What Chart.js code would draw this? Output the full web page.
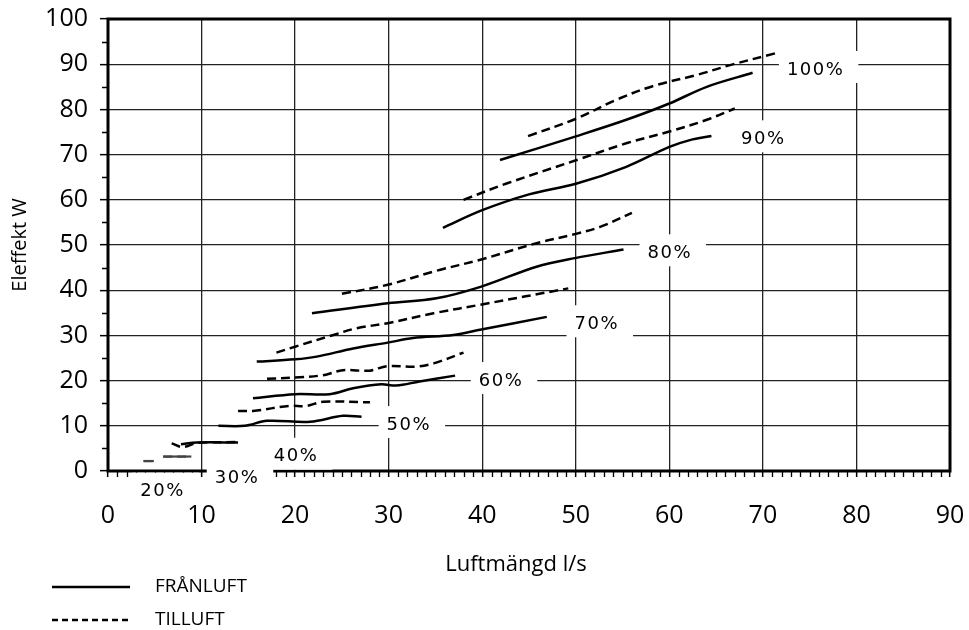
<!DOCTYPE html>
<html><head><meta charset="utf-8">
<script src="https://cdn.jsdelivr.net/npm/chart.js@4.4.1/dist/chart.umd.min.js"></script>
<style>html,body{margin:0;padding:0;background:#fff;}</style>
</head><body>
<canvas id="c" width="969" height="630"></canvas>
<script>
// ---- data (x = Luftmängd l/s, y = Eleffekt W) ----
const xRange = [0, 90];
const yRange = [0, 100];
const xStep = 10, yStep = 10;

const levels = ['20%','30%','40%','50%','60%','70%','80%','90%','100%'];

const fran20  = [[3.8,2.2],[4.9,2.2]];
const fran30  = [[5.9,3.2],[8.9,3.2]];
const fran40  = [[7.8,5.9],[9.5,6.3],[13.9,6.3]];
const fran50  = [[11.8,10.0],[14.6,10.0],[17,11.1],[21.6,10.9],[25.1,12.2],[27.1,12.0]];
const fran60  = [[15.5,16.1],[20,17.0],[23.7,17.0],[26.2,18.3],[29.2,19.2],[30.8,18.9],[33.3,19.8],[37.1,21.1]];
const fran70  = [[15.9,24.2],[20,24.7],[22.3,25.3],[26.2,27.1],[29.9,28.4],[32.6,29.4],[36.9,30.1],[39.9,31.3],[46.9,34.1]];
const fran80  = [[21.8,34.9],[29.9,37.1],[35.1,38.2],[39.9,40.8],[45.8,45.2],[49.9,47.1],[55.1,49.0]];
const fran90  = [[35.8,53.8],[40,57.7],[45,61.2],[50.1,63.6],[55.4,67.3],[60,71.7],[62.2,73.2],[64.5,74.1]];
const fran100 = [[41.9,68.8],[50.1,74.1],[55.4,77.7],[60,81.3],[64,85.0],[68.9,88.1]];

const till20  = [[3.8,2.2],[4.9,2.2]];
const till30  = [[5.9,3.2],[8.9,3.2]];
const till40  = [[6.8,6.1],[8,5.3],[9.5,6.2],[13.9,6.4]];
const till50  = [[13.9,13.3],[15.5,13.3],[19.4,14.4],[21.2,14.4],[23,15.3],[28,15.2]];
const till60  = [[17,20.4],[20,20.7],[23,21.2],[25.1,22.3],[28,22.2],[29.8,23.2],[33,23.1],[34.8,23.8],[38,26.2]];
const till70  = [[18,26.2],[20,27.5],[24.1,30.1],[26.6,31.6],[29.9,32.7],[34.8,34.9],[40.1,36.9],[49.2,40.4]];
const till80  = [[25,39.2],[29.9,41.2],[35.1,44.3],[39.9,46.8],[45.8,50.4],[49.9,52.4],[52.6,54.0],[56,57.1]];
const till90  = [[38,60.0],[42.6,63.6],[50.1,68.8],[55.4,72.5],[60,75.1],[64,77.7],[67,80.2]];
const till100 = [[44.9,74.1],[50.1,78.0],[54.3,82.1],[58.3,85.2],[62.9,87.6],[66.5,89.8],[71.3,92.4]];

// label anchors (data units) for the % annotations
const labelX = [5.73, 13.68, 20.0, 32.05, 41.9, 52.14, 59.94, 69.93, 75.53];
const labelY = [-4.58, -1.62, 3.16, 10.18, 19.9, 32.46, 48.16, 73.38, 88.72];

const legendNames = ['FRÅNLUFT', 'TILLUFT'];
const xTitle = 'Luftmängd l/s';
const yTitle = 'Eleffekt W';

// ---- build ----
const franluft = [fran20,fran30,fran40,fran50,fran60,fran70,fran80,fran90,fran100];
const tilluft  = [till20,till30,till40,till50,till60,till70,till80,till90,till100];
const toXY = a => a.map(p => ({x:p[0], y:p[1]}));
const datasets = [];
levels.forEach((lv, i) => {
  const small = i < 2;
  datasets.push({label: legendNames[0]+' '+lv, data: toXY(franluft[i]),
    borderColor: small ? '#444' : '#000', borderWidth: small ? 2.2 : 2.5, borderDash: []});
  datasets.push({label: legendNames[1]+' '+lv, data: toXY(tilluft[i]),
    borderColor: small ? '#444' : '#000', borderWidth: small ? 2.2 : 2.5, borderDash: [9,5]});
});

const TICKFONT = {family: 'Open Sans', size: 25};
const noPad = s => { s.paddingLeft = 0; s.paddingRight = 0; s.paddingTop = 0; s.paddingBottom = 0; };

const decor = {
  id: 'decor',
  afterDatasetsDraw(chart) {
    const ctx = chart.ctx, a = chart.chartArea;
    const xs = chart.scales.x, ys = chart.scales.y;
    ctx.save();
    // frame
    ctx.strokeStyle = '#000'; ctx.lineWidth = 3;
    ctx.strokeRect(a.left, a.top, a.right - a.left, a.bottom - a.top);
    // minor ticks
    ctx.lineWidth = 1.3;
    ctx.beginPath();
    for (let v = xRange[0]; v <= xRange[1]; v += 1) {
      if (v % xStep === 0) continue;
      const px = Math.round(xs.getPixelForValue(v)) + 0.5;
      ctx.moveTo(px, a.bottom); ctx.lineTo(px, a.bottom + 6);
    }
    for (let v = yRange[0]; v <= yRange[1]; v += 5) {
      if (v % yStep === 0) continue;
      const py = Math.round(ys.getPixelForValue(v)) + 0.5;
      ctx.moveTo(a.left - 6, py); ctx.lineTo(a.left, py);
    }
    ctx.stroke();
    // % labels with white boxes
    ctx.font = '18px "DejaVu Sans"';
    ctx.letterSpacing = '1.5px';
    ctx.textBaseline = 'middle';
    ctx.textAlign = 'center';
    levels.forEach((lv, i) => {
      const cx = xs.getPixelForValue(labelX[i]);
      const cy = ys.getPixelForValue(labelY[i]);
      const w = ctx.measureText(lv).width;
      ctx.fillStyle = '#fff';
      ctx.fillRect(cx - w/2 - 7, cy - 19, w + 22, 32);
      ctx.fillStyle = '#000';
      ctx.fillText(lv, cx + 1, cy);
    });
    ctx.restore();
  },
  afterDraw(chart) {
    const ctx = chart.ctx;
    ctx.save();
    ctx.fillStyle = '#000';
    ctx.textBaseline = 'middle';
    ctx.textAlign = 'center';
    ctx.font = '22px "Open Sans"';
    ctx.fillText(xTitle, 516, 565);
    ctx.save();
    ctx.translate(20, 245);
    ctx.rotate(-Math.PI/2);
    ctx.font = '20px "Open Sans"';
    ctx.fillText(yTitle, 0, 0);
    ctx.restore();
    // legend
    ctx.strokeStyle = '#000';
    ctx.lineWidth = 2.5;
    ctx.beginPath(); ctx.moveTo(52, 587); ctx.lineTo(130, 587); ctx.stroke();
    ctx.setLineDash([6,4]);
    ctx.beginPath(); ctx.moveTo(52, 620); ctx.lineTo(130, 620); ctx.stroke();
    ctx.setLineDash([]);
    ctx.textAlign = 'left';
    ctx.font = '19px "Open Sans"';
    ctx.fillText(legendNames[0], 155, 587);
    ctx.fillText(legendNames[1], 155, 620);
    ctx.restore();
  }
};

new Chart(document.getElementById('c'), {
  type: 'line',
  data: { datasets },
  options: {
    responsive: false,
    animation: false,
    events: [],
    devicePixelRatio: 1,
    layout: { padding: { top: 19, right: 19, bottom: 0, left: 0 } },
    elements: { point: { radius: 0 }, line: { tension: 0.35, fill: false } },
    plugins: { legend: { display: false }, tooltip: { enabled: false } },
    scales: {
      x: {
        type: 'linear', min: xRange[0], max: xRange[1],
        ticks: { stepSize: xStep, font: TICKFONT, color: '#000', padding: 24, maxRotation: 0 },
        grid: { color: '#222', lineWidth: 1.3, tickLength: 6, tickColor: '#000', tickWidth: 1.5 },
        border: { display: false },
        afterFit: s => { s.height = 159; noPad(s); }
      },
      y: {
        type: 'linear', min: yRange[0], max: yRange[1],
        ticks: { stepSize: yStep, font: TICKFONT, color: '#000', padding: 12 },
        grid: { color: '#222', lineWidth: 1.3, tickLength: 8, tickColor: '#000', tickWidth: 1.5 },
        border: { display: false },
        afterFit: s => { s.width = 108; noPad(s); }
      }
    }
  },
  plugins: [decor]
});
</script>
</body></html>
